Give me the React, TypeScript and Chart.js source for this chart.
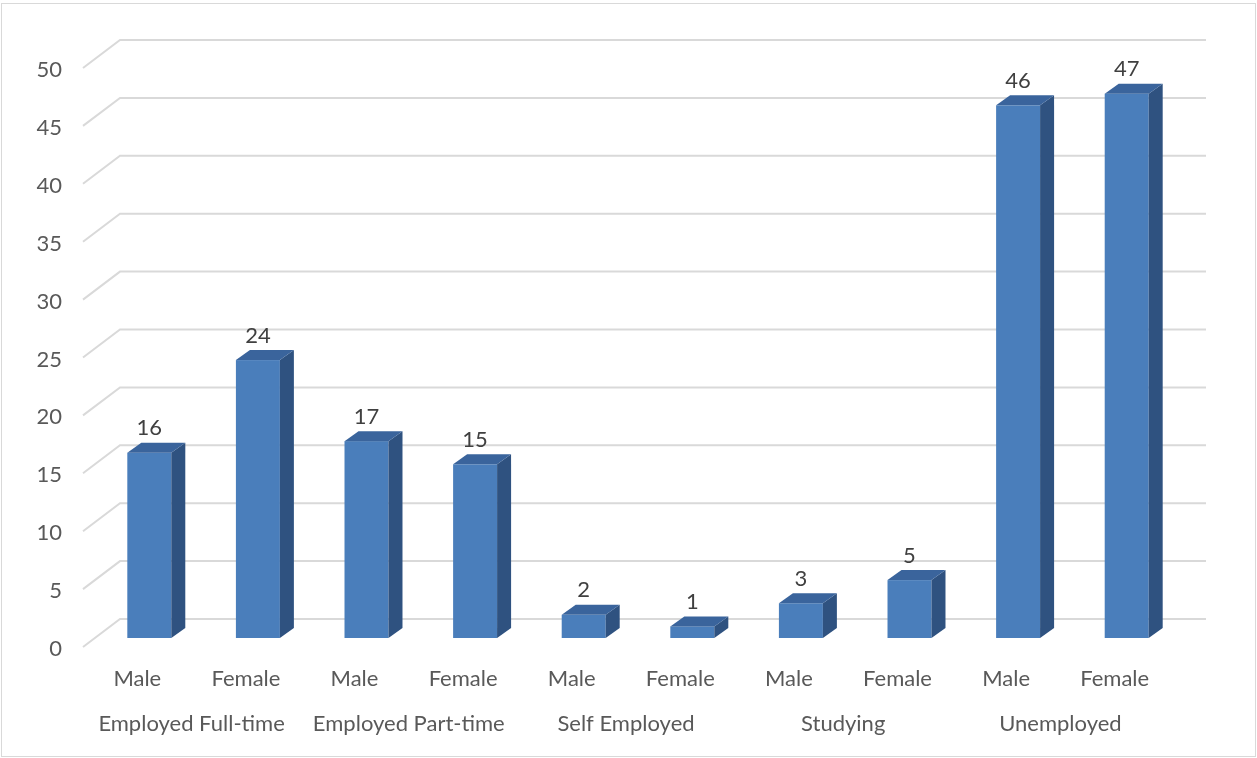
import React, { useEffect, useRef } from "react";
import { Chart, registerables } from "chart.js";

Chart.register(...registerables);

const groups = ["Employed Full-time", "Employed Part-time", "Self Employed", "Studying", "Unemployed"];
const genders = ["Male", "Female"];
const categories = ["Male", "Female", "Male", "Female", "Male", "Female", "Male", "Female", "Male", "Female"];
const values = [16, 24, 17, 15, 2, 1, 3, 5, 46, 47];
const yTicks = [0, 5, 10, 15, 20, 25, 30, 35, 40, 45, 50];

const FONT = "Lato, 'Open Sans', sans-serif";
const TXT = "#595959";
const GRID = "#d9d9d9";
const DX = 37; // wall depth offset
const DY = 28;
const BAR_OX = 12; // bar front offset from front plane
const BAR_OY = 9;
const BDX = 14; // bar depth
const BDY = 10;

const threeD = {
  id: "threeD",
  beforeDatasetsDraw(chart: any) {
    const { ctx, chartArea } = chart;
    const y = chart.scales.y;
    const x = chart.scales.x;
    ctx.save();
    // border
    ctx.strokeStyle = GRID;
    ctx.lineWidth = 1;
    ctx.strokeRect(1.5, 3.5, 1254, 753);
    // grid lines
    ctx.strokeStyle = GRID;
    ctx.lineWidth = 2;
    yTicks.forEach((v) => {
      const py = y.getPixelForValue(v);
      ctx.beginPath();
      ctx.moveTo(chartArea.left, py);
      ctx.lineTo(chartArea.left + DX, py - DY);
      ctx.lineTo(chartArea.right + DX, py - DY);
      ctx.stroke();
    });
    // y tick labels
    ctx.fillStyle = TXT;
    ctx.font = `22px ${FONT}`;
    ctx.textAlign = "right";
    ctx.textBaseline = "alphabetic";
    yTicks.forEach((v) => {
      const py = y.getPixelForValue(v);
      ctx.fillText(String(v), chartArea.left - 21, py + 9);
    });
    // category labels
    ctx.textAlign = "center";
    categories.forEach((c, i) => {
      const px = x.getPixelForValue(i);
      ctx.fillText(c, px, chartArea.bottom + 39);
    });
    groups.forEach((g, gi) => {
      const p0 = x.getPixelForValue(gi * genders.length);
      const p1 = x.getPixelForValue(gi * genders.length + genders.length - 1);
      ctx.fillText(g, (p0 + p1) / 2, chartArea.bottom + 84);
    });
    ctx.restore();
  },
  afterDatasetsDraw(chart: any) {
    const { ctx } = chart;
    const meta = chart.getDatasetMeta(0);
    ctx.save();
    meta.data.forEach((el: any, i: number) => {
      const w = el.width;
      const x0 = el.x - w / 2 + BAR_OX;
      const x1 = x0 + w;
      const yt = el.y - BAR_OY;
      const yb = el.base - BAR_OY;
      // front
      ctx.fillStyle = "#4a7ebb";
      ctx.fillRect(x0, yt, w, yb - yt);
      // side
      ctx.fillStyle = "#2f5280";
      ctx.beginPath();
      ctx.moveTo(x1, yt);
      ctx.lineTo(x1 + BDX, yt - BDY);
      ctx.lineTo(x1 + BDX, yb - BDY);
      ctx.lineTo(x1, yb);
      ctx.closePath();
      ctx.fill();
      // top
      ctx.fillStyle = "#3a649c";
      ctx.beginPath();
      ctx.moveTo(x0, yt);
      ctx.lineTo(x1, yt);
      ctx.lineTo(x1 + BDX, yt - BDY);
      ctx.lineTo(x0 + BDX, yt - BDY);
      ctx.closePath();
      ctx.fill();
      // label
      ctx.fillStyle = "#404040";
      ctx.font = `22px ${FONT}`;
      ctx.textAlign = "center";
      ctx.textBaseline = "alphabetic";
      ctx.fillText(String(values[i]), x0 + w / 2, yt - BDY - 7.5);
    });
    ctx.restore();
  },
};

export default function App() {
  const ref = useRef<HTMLCanvasElement>(null);
  useEffect(() => {
    document.body.style.margin = "0";
    const chart = new Chart(ref.current!, {
      type: "bar",
      data: {
        labels: categories,
        datasets: [
          {
            data: values,
            backgroundColor: "rgba(0,0,0,0)",
            borderWidth: 0,
            barPercentage: 0.405,
            categoryPercentage: 1,
          },
        ],
      },
      options: {
        responsive: false,
        animation: false,
        devicePixelRatio: 1,
        layout: { padding: { left: 83, right: 88, top: 68, bottom: 111 } },
        plugins: { legend: { display: false }, tooltip: { enabled: false } },
        scales: {
          x: { display: false },
          y: { display: false, min: 0, max: 50, ticks: { stepSize: 5 } },
        },
      },
      plugins: [threeD],
    });
    return () => chart.destroy();
  }, []);
  return (
    <div style={{ position: "fixed", left: 0, top: 0, width: 1257, height: 758, background: "#fff" }}>
      <canvas ref={ref} width={1257} height={758} style={{ width: 1257, height: 758 }} />
    </div>
  );
}
